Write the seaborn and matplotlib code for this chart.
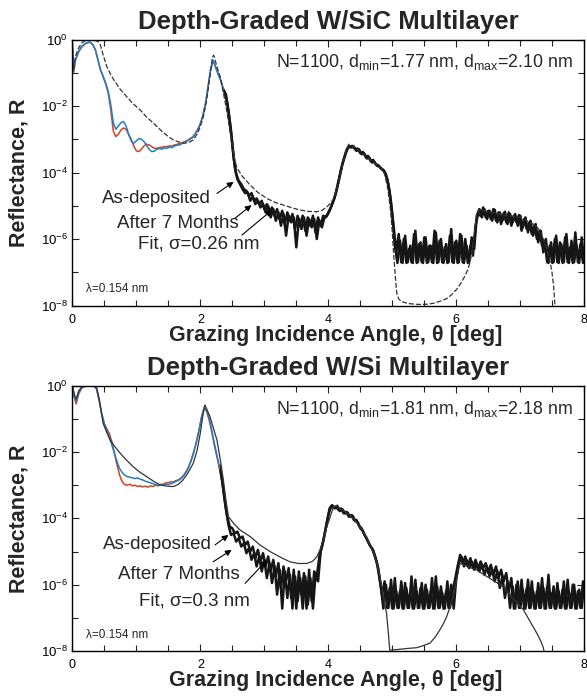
import numpy as np
import pandas as pd
import seaborn as sns
import matplotlib.pyplot as plt
from matplotlib.ticker import FixedLocator, NullFormatter

# ---------------- W/SiC (top panel) ----------------
# values are log10(R)
sic_lo_theta = [0.00, 0.02, 0.05, 0.10, 0.15, 0.20, 0.25, 0.28, 0.32, 0.36,
                0.40, 0.44, 0.48, 0.52, 0.56, 0.60, 0.64, 0.68, 0.72, 0.76,
                0.80, 0.84, 0.88, 0.92, 0.96, 1.00, 1.04, 1.08, 1.12, 1.16,
                1.20, 1.24, 1.28, 1.32, 1.36, 1.40, 1.44, 1.48, 1.52, 1.56,
                1.60, 1.64, 1.68, 1.72, 1.76, 1.80, 1.84, 1.88, 1.92, 1.96,
                2.00, 2.04, 2.08, 2.12, 2.16, 2.20, 2.24, 2.28, 2.32, 2.36]
sic_lo_asdep = [-0.05, -0.95, -0.6, -0.35, -0.2, -0.12, -0.08, -0.08, -0.15, -0.3,
                -0.6, -0.9, -1.1, -1.3, -1.55, -1.95, -2.5, -2.7, -2.6, -2.5,
                -2.47, -2.6, -2.85, -3.05, -3.12, -3.05, -2.98, -3.0, -3.07, -3.18,
                -3.3, -3.37, -3.36, -3.3, -3.28, -3.3, -3.26, -3.27, -3.24, -3.25,
                -3.2, -3.18, -3.17, -3.12, -3.08, -3.05, -3.0, -2.95, -2.85, -2.72,
                -2.55, -2.3, -1.95, -1.45, -0.9, -0.62, -0.85, -1.05, -1.25, -1.5]
sic_lo_aged = [-0.05, -1.0, -0.62, -0.37, -0.22, -0.13, -0.09, -0.09, -0.16, -0.32,
               -0.62, -0.92, -1.12, -1.33, -1.6, -2.1, -2.75, -2.92, -2.85, -2.72,
               -2.66, -2.7, -2.85, -3.0, -3.2, -3.35, -3.37, -3.3, -3.2, -3.15,
               -3.17, -3.22, -3.27, -3.27, -3.25, -3.24, -3.22, -3.22, -3.2, -3.2,
               -3.17, -3.15, -3.13, -3.1, -3.07, -3.03, -2.98, -2.93, -2.83, -2.7,
               -2.52, -2.28, -1.93, -1.43, -0.92, -0.63, -0.83, -1.02, -1.22, -1.48]

# high-angle scans, 0.04 deg steps
sic_hi_asdep = [
    -1.5, -1.65, -2.15, -2.75, -3.55, -4.05, -4.25, -4.35, -4.5, -4.55,
    -4.7, -4.62, -4.85, -4.78, -4.95, -4.85, -5.1, -4.95, -5.2, -5.05,
    -5.3, -5.1, -5.4, -5.15, -5.55, -5.2, -5.45, -5.25, -5.7, -5.3,
    -5.55, -5.3, -5.75, -5.35, -5.6, -5.3, -5.8, -5.35, -5.6, -5.3,
    -5.35, -5.2, -5.05, -4.85, -4.6, -4.25, -3.9, -3.6, -3.35, -3.2,
    -3.25, -3.22, -3.35, -3.3, -3.45, -3.42, -3.58, -3.55, -3.7, -3.68,
    -3.8, -3.82, -3.9, -3.98, -4.2, -4.6, -5.3, -6.2, -6.72, -6.05,
    -6.72, -5.9, -6.7, -6.2, -6.72, -5.75, -6.7, -6.1, -6.72, -5.95,
    -6.7, -6.2, -6.72, -5.8, -6.7, -6.0, -6.72, -6.15, -6.7, -5.7,
    -6.72, -6.05, -6.7, -5.9, -6.72, -6.2, -6.7, -5.95, -6.3, -5.3,
    -5.1, -5.35, -5.1, -5.4, -5.15, -5.45, -5.12, -5.5, -5.2, -5.45,
    -5.18, -5.55, -5.25, -5.5, -5.25, -5.6, -5.3, -5.65, -5.35, -5.8,
    -5.45, -5.9, -5.55, -6.1, -5.75, -6.4, -6.0, -6.72, -6.1, -6.7,
    -5.9, -6.72, -6.15, -6.7, -5.85, -6.72, -6.05, -6.7, -6.2, -6.72,
    -5.95, -6.7]
sic_hi_aged = [
    -1.6, -1.9, -2.45, -3.15, -3.85, -4.2, -4.35, -4.5, -4.62, -4.6,
    -4.85, -4.72, -4.95, -4.85, -5.05, -4.95, -5.2, -5.0, -5.35, -5.1,
    -5.45, -5.2, -5.6, -5.25, -5.9, -5.3, -5.5, -5.35, -6.25, -5.4,
    -5.7, -5.35, -5.9, -5.4, -5.65, -5.4, -6.0, -5.45, -5.65, -5.35,
    -5.3, -5.15, -4.95, -4.75, -4.45, -4.1, -3.75, -3.5, -3.28, -3.22,
    -3.2, -3.3, -3.28, -3.42, -3.38, -3.52, -3.5, -3.65, -3.62, -3.75,
    -3.78, -3.88, -3.92, -4.05, -4.35, -4.9, -5.6, -6.4, -5.85, -6.7,
    -6.0, -6.72, -6.3, -6.7, -5.85, -6.72, -6.15, -6.7, -5.95, -6.72,
    -6.2, -6.7, -5.75, -6.72, -6.05, -6.7, -6.25, -6.72, -5.9, -6.7,
    -6.1, -6.72, -5.85, -6.7, -6.0, -6.72, -6.2, -6.5, -5.6, -5.25,
    -5.3, -5.05, -5.35, -5.15, -5.4, -5.1, -5.45, -5.2, -5.55, -5.22,
    -5.5, -5.2, -5.6, -5.3, -5.5, -5.28, -5.75, -5.4, -5.7, -5.5,
    -5.85, -5.6, -6.0, -5.75, -6.2, -6.05, -6.7, -6.2, -6.72, -6.0,
    -6.7, -6.1, -6.72, -5.95, -6.7, -6.25, -6.72, -5.8, -6.7, -6.15,
    -6.72]

sic_fit_theta = [0.00, 0.02, 0.05, 0.10, 0.15, 0.20, 0.25, 0.30, 0.35, 0.40,
                 0.43, 0.48, 0.54, 0.60, 0.65, 0.75, 0.85, 0.95, 1.06, 1.16,
                 1.27, 1.40, 1.50, 1.58, 1.66, 1.74, 1.82, 1.89, 1.95, 2.00,
                 2.05, 2.10, 2.15, 2.19, 2.21, 2.25, 2.31, 2.36, 2.41, 2.45,
                 2.49, 2.53, 2.57, 2.65, 2.78, 2.90, 3.04, 3.17, 3.30, 3.43,
                 3.56, 3.69, 3.82, 3.90, 3.98, 4.03, 4.08, 4.14, 4.20, 4.25,
                 4.29, 4.32, 4.36, 4.45, 4.55, 4.65, 4.75, 4.83, 4.88, 4.93,
                 4.97, 5.00, 5.02, 5.05, 5.07, 5.10, 5.14, 5.25, 5.35, 5.45,
                 5.55, 5.65, 5.70, 5.78, 5.86, 5.94, 6.02, 6.08, 6.13, 6.18,
                 6.21, 6.24, 6.26, 6.29, 6.32, 6.36, 6.40, 6.50, 6.60, 6.70,
                 6.80, 6.90, 7.02, 7.10, 7.20, 7.28, 7.35, 7.40, 7.45, 7.49,
                 7.52, 7.54, 7.55]
sic_fit = [-0.05, -0.9, -0.5, -0.25, -0.1, -0.03, 0.0, -0.01, -0.03, -0.06,
           -0.11, -0.45, -0.82, -1.05, -1.22, -1.5, -1.72, -1.93, -2.12, -2.33,
           -2.52, -2.76, -2.92, -3.02, -3.08, -3.12, -3.1, -3.02, -2.85, -2.62,
           -2.3, -1.82, -1.1, -0.52, -0.47, -0.75, -1.12, -1.6, -2.12, -2.6,
           -3.05, -3.55, -3.85, -4.1, -4.38, -4.6, -4.78, -4.9, -4.98, -5.06,
           -5.13, -5.17, -5.18, -5.14, -5.03, -4.93, -4.8, -4.45, -3.95, -3.55,
           -3.3, -3.15, -3.18, -3.3, -3.45, -3.6, -3.75, -3.88, -4.05, -4.5,
           -5.1, -5.8, -6.42, -7.2, -7.63, -7.8, -7.88, -7.94, -7.96, -7.97,
           -7.96, -7.93, -7.9, -7.85, -7.78, -7.65, -7.48, -7.3, -7.13, -6.92,
           -6.73, -6.45, -6.2, -5.7, -5.23, -5.12, -5.13, -5.18, -5.22, -5.26,
           -5.3, -5.32, -5.36, -5.45, -5.55, -5.68, -5.95, -6.2, -6.55, -6.93,
           -7.4, -7.95, -8.3]

# ---------------- W/Si (bottom panel) ----------------
si_lo_theta = [0.00, 0.03, 0.06, 0.10, 0.15, 0.20, 0.25, 0.30, 0.34, 0.38,
               0.42, 0.46, 0.50, 0.54, 0.58, 0.62, 0.66, 0.70, 0.74, 0.78,
               0.82, 0.86, 0.90, 0.94, 0.98, 1.02, 1.06, 1.10, 1.14, 1.18,
               1.22, 1.26, 1.30, 1.34, 1.38, 1.42, 1.46, 1.50, 1.54, 1.58,
               1.62, 1.66, 1.70, 1.74, 1.78, 1.82, 1.86, 1.90, 1.94, 1.98,
               2.02, 2.06, 2.10, 2.14, 2.18, 2.22, 2.26, 2.30]
si_lo_asdep = [0.0, -0.3, -0.48, -0.2, -0.05, -0.02, 0.0, 0.0, -0.02, -0.1,
               -0.45, -0.85, -1.15, -1.35, -1.55, -1.8, -2.05, -2.3, -2.5, -2.62,
               -2.7, -2.74, -2.76, -2.78, -2.8, -2.78, -2.82, -2.84, -2.88, -2.9,
               -2.93, -2.95, -2.98, -3.0, -2.98, -3.0, -2.97, -2.98, -2.95, -2.93,
               -2.88, -2.85, -2.8, -2.72, -2.6, -2.45, -2.25, -2.0, -1.7, -1.35,
               -0.95, -0.68, -0.75, -1.0, -1.35, -1.75, -2.1, -2.45]
si_lo_aged = [0.0, -0.35, -0.55, -0.25, -0.06, -0.02, 0.0, 0.0, -0.02, -0.1,
              -0.45, -0.85, -1.15, -1.3, -1.45, -1.7, -2.05, -2.4, -2.7, -2.9,
              -2.98, -3.0, -2.97, -3.02, -3.0, -3.04, -3.02, -3.05, -3.03, -3.06,
              -3.02, -3.04, -3.0, -3.02, -2.98, -2.97, -2.93, -2.92, -2.9, -2.9,
              -2.86, -2.84, -2.78, -2.7, -2.58, -2.43, -2.22, -1.97, -1.68, -1.33,
              -0.93, -0.66, -0.78, -1.05, -1.4, -1.8, -2.15, -2.5]

si_hi_asdep = [
    -2.4, -2.85, -3.45, -3.95, -4.25, -4.3, -4.45, -4.4, -4.6, -4.55,
    -4.8, -4.7, -5.0, -4.85, -5.2, -4.95, -5.3, -5.05, -5.45, -5.15,
    -5.6, -5.25, -5.75, -5.35, -6.1, -5.45, -5.9, -5.5, -6.4, -5.55,
    -6.72, -5.6, -6.3, -5.65, -6.72, -5.55, -6.5, -5.6, -5.75, -5.15,
    -4.85, -4.5, -4.1, -3.7, -3.6, -3.7, -3.62, -3.78, -3.72, -3.85,
    -3.82, -3.95, -3.92, -4.08, -4.12, -4.3, -4.38, -4.55, -4.7, -4.85,
    -4.95, -5.2, -5.5, -6.05, -6.72, -6.0, -6.7, -5.85, -6.72, -6.2,
    -6.7, -5.9, -6.72, -6.1, -6.7, -5.75, -6.72, -6.2, -6.7, -5.95,
    -6.72, -6.15, -6.7, -5.8, -6.72, -6.05, -6.7, -6.25, -6.72, -5.9,
    -6.7, -6.2, -5.85, -5.45, -5.1, -5.35, -5.15, -5.45, -5.2, -5.5,
    -5.25, -5.55, -5.3, -5.5, -5.35, -5.65, -5.4, -5.7, -5.45, -5.8,
    -5.55, -5.9, -5.65, -6.2, -5.8, -6.72, -6.0, -6.7, -5.85, -6.72,
    -6.1, -6.7, -5.9, -6.72, -6.2, -6.7, -5.8, -6.72, -6.05, -6.7,
    -6.25, -6.72, -5.95, -6.7, -6.15, -6.72, -5.85, -6.7, -6.0, -6.72,
    -6.2, -6.7, -5.9]
si_hi_aged = [
    -2.6, -3.1, -3.7, -4.2, -4.5, -4.45, -4.7, -4.6, -4.85, -4.75,
    -5.05, -4.9, -5.25, -5.05, -5.45, -5.15, -5.6, -5.25, -5.8, -5.35,
    -5.95, -5.45, -6.3, -5.55, -6.72, -5.6, -6.4, -5.7, -6.72, -5.75,
    -6.5, -5.8, -6.72, -5.75, -6.6, -5.8, -6.72, -5.7, -5.9, -5.0,
    -4.7, -4.3, -3.9, -3.65, -3.68, -3.65, -3.75, -3.7, -3.85, -3.8,
    -3.95, -3.9, -4.05, -4.05, -4.22, -4.3, -4.48, -4.6, -4.78, -4.9,
    -5.1, -5.35, -5.8, -6.3, -5.9, -6.7, -6.1, -6.72, -5.8, -6.7,
    -6.2, -6.72, -5.95, -6.7, -6.25, -6.72, -5.85, -6.7, -6.1, -6.72,
    -6.0, -6.7, -6.2, -6.72, -5.75, -6.7, -6.05, -6.72, -6.2, -6.7,
    -6.0, -6.72, -5.8, -5.35, -5.15, -5.45, -5.25, -5.5, -5.3, -5.55,
    -5.35, -5.6, -5.4, -5.7, -5.45, -5.75, -5.55, -5.9, -5.6, -6.1,
    -5.75, -6.4, -5.9, -6.7, -6.05, -6.72, -5.9, -6.7, -6.15, -6.72,
    -5.85, -6.7, -6.2, -6.72, -5.95, -6.7, -6.1, -6.72, -5.7, -6.7,
    -6.05, -6.72, -6.2, -6.7, -5.9, -6.72, -6.25, -6.7, -6.0, -6.72,
    -6.15, -6.7, -5.95]

si_fit_theta = [0.00, 0.03, 0.06, 0.10, 0.15, 0.20, 0.30, 0.36, 0.38, 0.42,
                0.48, 0.54, 0.59, 0.67, 0.75, 0.85, 0.95, 1.05, 1.16, 1.27,
                1.37, 1.48, 1.58, 1.66, 1.73, 1.80, 1.89, 1.95, 2.00, 2.04,
                2.07, 2.10, 2.15, 2.20, 2.26, 2.31, 2.36, 2.40, 2.44, 2.52,
                2.62, 2.78, 2.93, 3.09, 3.25, 3.40, 3.53, 3.66, 3.75, 3.82,
                3.87, 3.92, 3.97, 4.03, 4.08, 4.12, 4.20, 4.30, 4.40, 4.50,
                4.60, 4.70, 4.76, 4.83, 4.88, 4.91, 4.94, 4.96, 5.05, 5.15,
                5.25, 5.38, 5.48, 5.59, 5.67, 5.74, 5.80, 5.85, 5.90, 5.95,
                6.00, 6.04, 6.06, 6.12, 6.20, 6.32, 6.45, 6.60, 6.73, 6.85,
                6.95, 7.05, 7.15, 7.26, 7.32, 7.36, 7.38]
si_fit = [0.0, -0.25, -0.4, -0.15, -0.03, 0.0, 0.0, -0.02, -0.05, -0.4,
          -1.13, -1.42, -1.64, -1.85, -2.04, -2.25, -2.44, -2.6, -2.74, -2.88,
          -2.99, -3.03, -3.04, -2.97, -2.84, -2.65, -2.34, -1.95, -1.43, -0.9,
          -0.58, -0.7, -0.93, -1.25, -1.64, -2.2, -2.84, -3.45, -3.95, -4.15,
          -4.35, -4.55, -4.8, -5.0, -5.17, -5.31, -5.36, -5.36, -5.3, -5.16,
          -4.95, -4.65, -4.3, -3.95, -3.65, -3.62, -3.72, -3.85, -4.02, -4.27,
          -4.6, -5.0, -5.35, -6.0, -6.55, -6.86, -7.5, -7.97, -7.96, -7.94,
          -7.92, -7.9, -7.84, -7.76, -7.58, -7.37, -7.17, -6.96, -6.68, -6.36,
          -5.9, -5.5, -5.36, -5.4, -5.47, -5.56, -5.72, -5.9, -6.06, -6.35,
          -6.55, -6.76, -7.1, -7.47, -7.7, -7.9, -8.1]

panel_titles = ['Depth-Graded W/SiC Multilayer', 'Depth-Graded W/Si Multilayer']
panel_params = [r'N=1100, d$_{\mathregular{min}}$=1.77 nm, d$_{\mathregular{max}}$=2.10 nm',
                r'N=1100, d$_{\mathregular{min}}$=1.81 nm, d$_{\mathregular{max}}$=2.18 nm']
fit_labels = ['Fit, σ=0.26 nm', 'Fit, σ=0.3 nm']

BLUE = '#1f7fc3'
RED = '#cc4420'


def to_df(theta, logr):
    return pd.DataFrame({'theta': np.asarray(theta, dtype=float),
                         'R': 10.0 ** np.asarray(logr, dtype=float)})


def draw_line(ax, df, **kw):
    sns.lineplot(data=df, x='theta', y='R', ax=ax, estimator=None,
                 sort=False, legend=False, **kw)


sns.set_style('ticks')
plt.rcParams['font.family'] = ['Liberation Sans', 'DejaVu Sans']
plt.rcParams['mathtext.fontset'] = 'custom'
plt.rcParams['mathtext.rm'] = 'Liberation Sans'
plt.rcParams['mathtext.it'] = 'Liberation Sans:italic'

fig = plt.figure(figsize=(5.87, 6.98), dpi=100)
ax1 = fig.add_axes([0.1232, 0.5623, 0.8722, 0.3811])
ax2 = fig.add_axes([0.1232, 0.0673, 0.8722, 0.3801])

panels = [
    (ax1, sic_lo_theta, sic_lo_asdep, sic_lo_aged, sic_hi_asdep, sic_hi_aged,
     (2.36, 8.00), (2.38, 7.98), sic_fit_theta, sic_fit, (0, (4, 1.6))),
    (ax2, si_lo_theta, si_lo_asdep, si_lo_aged, si_hi_asdep, si_hi_aged,
     (2.30, 7.98), (2.32, 8.00), si_fit_theta, si_fit, '-'),
]

# label text positions (data) and arrow tail/head, per panel
label_pos = [
    [(2.17, -4.78), (2.60, -5.52), (2.92, -6.15)],
    [(2.18, -4.80), (2.61, -5.68), (2.78, -6.50)],
]
arrows = [
    [((2.26, -4.63), (2.52, -4.28)), ((2.54, -5.38), (2.80, -4.98)), ((2.65, -5.88), (3.12, -5.13))],
    [((2.23, -4.80), (2.44, -4.50)), ((2.20, -5.31), (2.49, -4.95)), ((2.70, -5.96), (3.04, -5.26))],
]

for k, (ax, lo_t, lo_a, lo_b, hi_a, hi_b, rng_a, rng_b, fit_t, fit_v, fit_ls) in enumerate(panels):
    th_a = np.linspace(rng_a[0], rng_a[1], len(hi_a))
    th_b = np.linspace(rng_b[0], rng_b[1], len(hi_b))
    draw_line(ax, to_df(th_a, hi_a), color='#161616', lw=1.8)
    draw_line(ax, to_df(th_b, hi_b), color='#161616', lw=1.8)
    draw_line(ax, to_df(lo_t, lo_b), color=RED, lw=1.1)
    draw_line(ax, to_df(lo_t, lo_a), color=BLUE, lw=1.1)
    draw_line(ax, to_df(fit_t, fit_v), color='#333333', lw=0.9, linestyle=fit_ls)

    ax.set_yscale('log')
    ax.set_xlim(0, 8)
    ax.set_ylim(1e-8, 1e0)
    ax.set_xticks([0, 2, 4, 6, 8])
    ax.set_xticklabels(['0', '2', '4', '6', '8'])
    ax.xaxis.set_minor_locator(FixedLocator(np.arange(0, 8.01, 0.5)))
    ax.set_yticks([1e-8, 1e-6, 1e-4, 1e-2, 1e0])
    ax.set_yticklabels([r'$\mathregular{10^{-8}}$', r'$\mathregular{10^{-6}}$',
                        r'$\mathregular{10^{-4}}$', r'$\mathregular{10^{-2}}$',
                        r'$\mathregular{10^{0}}$'])
    ax.yaxis.set_minor_locator(FixedLocator([1e-7, 1e-5, 1e-3, 1e-1]))
    ax.yaxis.set_minor_formatter(NullFormatter())
    ax.xaxis.set_minor_formatter(NullFormatter())
    ax.tick_params(which='both', direction='in', top=True, right=True,
                   width=0.8, colors='#222222', labelcolor='black')
    ax.tick_params(which='major', length=5)
    ax.tick_params(which='minor', length=4)
    ax.tick_params(axis='x', labelsize=9, pad=6)
    ax.tick_params(axis='y', labelsize=9.5, pad=3)
    for s in ax.spines.values():
        s.set_linewidth(1.0)
        s.set_color('black')

    ax.set_title(panel_titles[k], fontsize=18.5, fontweight='bold', pad=7.5)
    ax.set_xlabel('Grazing Incidence Angle, θ [deg]', fontsize=15.5, fontweight='bold')
    ax.set_ylabel('Reflectance, R', fontsize=15.5, fontweight='bold')
    ax.xaxis.set_label_coords(0.515, -0.072)
    ax.yaxis.set_label_coords(-0.083, 0.5)

    ax.text(0.977, 0.895, panel_params[k], transform=ax.transAxes,
            ha='right', va='baseline', fontsize=12.8)
    ax.text(0.027, 0.062, 'λ=0.154 nm', transform=ax.transAxes,
            ha='left', va='center', fontsize=8.5)

    texts = ['As-deposited', 'After 7 Months', fit_labels[k]]
    for (tx, ty), txt in zip(label_pos[k], texts):
        ax.text(tx, 10 ** ty, txt, ha='right', va='center', fontsize=13.5)
    for (tail, head) in arrows[k]:
        ax.annotate('', xy=(head[0], 10 ** head[1]), xytext=(tail[0], 10 ** tail[1]),
                    arrowprops=dict(arrowstyle='-|>', color='black', lw=0.8,
                                    mutation_scale=9, shrinkA=0, shrinkB=0))

fig.savefig('out.png', dpi=100)
